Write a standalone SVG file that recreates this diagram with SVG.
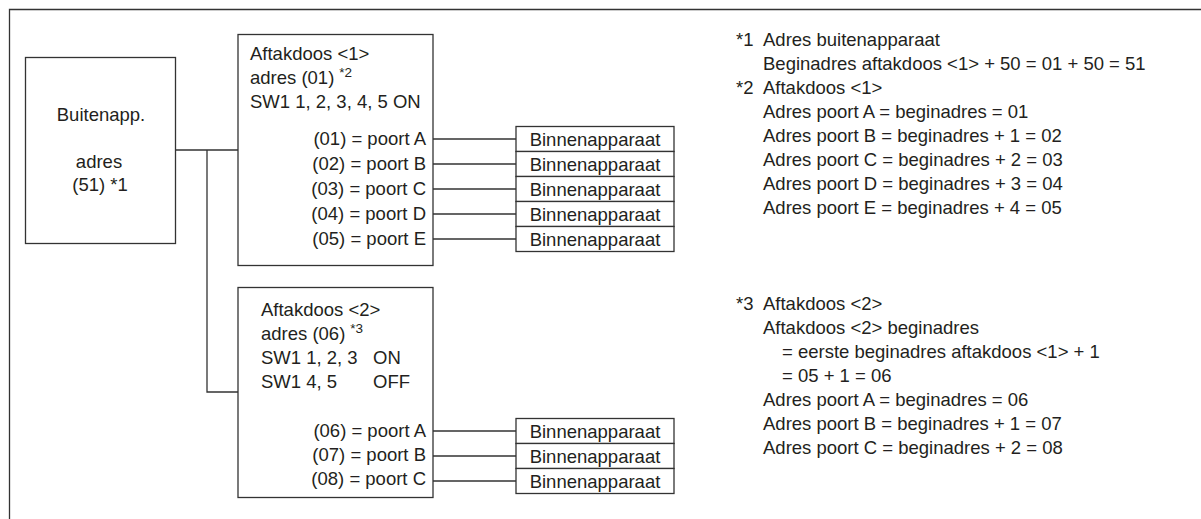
<svg xmlns="http://www.w3.org/2000/svg" width="1201" height="519" viewBox="0 0 1201 519">
<style>
text{font-family:"Liberation Sans",Arial,sans-serif;font-size:18.5px;fill:#231f20}
.sup{font-size:13.5px}
.r{text-anchor:end}
.m{text-anchor:middle}
.box{fill:#fff;stroke:#333;stroke-width:1.3}
.ln{fill:none;stroke:#333;stroke-width:1.3}
</style>
<rect width="1201" height="519" fill="#fff"/>
<path class="ln" d="M9.5,519 V9.5 H1201"/>
<g id="connectors">
<path class="ln" d="M176,150 H238 M207,150 V392 H238"/>
<path class="ln" d="M433,139 H516 M433,164 H516 M433,189 H516 M433,214 H516 M433,239 H516"/>
<path class="ln" d="M433,431 H516 M433,456 H516 M433,481 H516"/>
</g>
<g id="buitenapp">
<rect class="box" x="25.5" y="57.5" width="150" height="186"/>
<text class="m" x="101" y="121">Buitenapp.</text>
<text class="m" x="99" y="168">adres</text>
<text class="m" x="100" y="191">(51) *1</text>
</g>
<g id="aftakdoos1">
<rect class="box" x="238" y="34.5" width="195" height="231"/>
<text x="250" y="60">Aftakdoos &lt;1&gt;</text>
<text x="250" y="84">adres (01)<tspan class="sup" dx="5" dy="-7">*2</tspan></text>
<text x="250" y="108">SW1 1, 2, 3, 4, 5 ON</text>
<text class="r" x="426" y="145">(01) = poort A</text>
<text class="r" x="426" y="170">(02) = poort B</text>
<text class="r" x="426" y="195">(03) = poort C</text>
<text class="r" x="426" y="220">(04) = poort D</text>
<text class="r" x="426" y="245">(05) = poort E</text>
</g>
<g id="aftakdoos2">
<rect class="box" x="238" y="287.5" width="195" height="210"/>
<text x="261" y="316">Aftakdoos &lt;2&gt;</text>
<text x="261" y="340">adres (06)<tspan class="sup" dx="5" dy="-7">*3</tspan></text>
<text x="261" y="364">SW1 1, 2, 3</text>
<text x="373" y="364">ON</text>
<text x="261" y="388">SW1 4, 5</text>
<text x="373" y="388">OFF</text>
<text class="r" x="426" y="437">(06) = poort A</text>
<text class="r" x="426" y="461">(07) = poort B</text>
<text class="r" x="426" y="485">(08) = poort C</text>
</g>
<g id="binnen1">
<rect class="box" x="516" y="126.5" width="158" height="25"/>
<text class="m" x="595" y="145.5">Binnenapparaat</text>
</g>
<g id="binnen2">
<rect class="box" x="516" y="151.5" width="158" height="25"/>
<text class="m" x="595" y="170.5">Binnenapparaat</text>
</g>
<g id="binnen3">
<rect class="box" x="516" y="176.5" width="158" height="25"/>
<text class="m" x="595" y="195.5">Binnenapparaat</text>
</g>
<g id="binnen4">
<rect class="box" x="516" y="201.5" width="158" height="25"/>
<text class="m" x="595" y="220.5">Binnenapparaat</text>
</g>
<g id="binnen5">
<rect class="box" x="516" y="226.5" width="158" height="25"/>
<text class="m" x="595" y="245.5">Binnenapparaat</text>
</g>
<g id="binnen6">
<rect class="box" x="516" y="418.5" width="158" height="25"/>
<text class="m" x="595" y="437.5">Binnenapparaat</text>
</g>
<g id="binnen7">
<rect class="box" x="516" y="443.5" width="158" height="25"/>
<text class="m" x="595" y="462.5">Binnenapparaat</text>
</g>
<g id="binnen8">
<rect class="box" x="516" y="468.5" width="158" height="25"/>
<text class="m" x="595" y="487.5">Binnenapparaat</text>
</g>
<g id="notes">
<text x="736" y="46">*1</text>
<text x="763" y="46">Adres buitenapparaat</text>
<text x="763" y="70">Beginadres aftakdoos &lt;1&gt; + 50 = 01 + 50 = 51</text>
<text x="736" y="94">*2</text>
<text x="763" y="94">Aftakdoos &lt;1&gt;</text>
<text x="763" y="118">Adres poort A = beginadres = 01</text>
<text x="763" y="142">Adres poort B = beginadres + 1 = 02</text>
<text x="763" y="166">Adres poort C = beginadres + 2 = 03</text>
<text x="763" y="190">Adres poort D = beginadres + 3 = 04</text>
<text x="763" y="214">Adres poort E = beginadres + 4 = 05</text>
<text x="736" y="310">*3</text>
<text x="763" y="310">Aftakdoos &lt;2&gt;</text>
<text x="763" y="334">Aftakdoos &lt;2&gt; beginadres</text>
<text x="782" y="358">= eerste beginadres aftakdoos &lt;1&gt; + 1</text>
<text x="782" y="382">= 05 + 1 = 06</text>
<text x="763" y="406">Adres poort A = beginadres = 06</text>
<text x="763" y="430">Adres poort B = beginadres + 1 = 07</text>
<text x="763" y="454">Adres poort C = beginadres + 2 = 08</text>
</g>
</svg>
